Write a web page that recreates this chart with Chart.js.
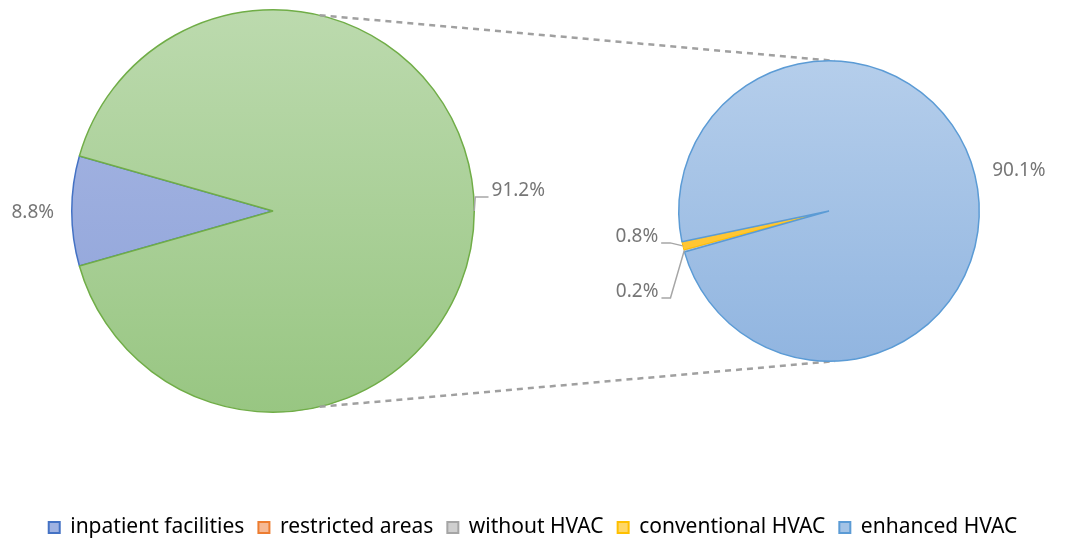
<!DOCTYPE html>
<html lang="en">
<head>
  <meta charset="UTF-8">
  <title>Pie of pie</title>
  <script src="https://cdn.jsdelivr.net/npm/chart.js"></script>
  <style>
    body { margin: 0; background: #fff; overflow: hidden; }
    #wrap { position: relative; width: 1066px; height: 540px; overflow: hidden; }
    canvas { position: absolute; left: 0; top: 0; }
    #legendChart { top: 503px; }
  </style>
</head>
<body>
  <div id="wrap">
    <canvas id="leftChart" width="1066" height="540"></canvas>
    <canvas id="rightChart" width="1066" height="540"></canvas>
    <canvas id="legendChart" width="1066" height="120"></canvas>
  </div>
  <script>
    // data (percent of total)
    const categories = ['inpatient facilities', 'restricted areas', 'without HVAC', 'conventional HVAC', 'enhanced HVAC'];
    const mainLabels = ['inpatient facilities', 'other'];
    const mainValues = [8.8, 91.2];
    const detailLabels = ['restricted areas', 'without HVAC', 'conventional HVAC', 'enhanced HVAC'];
    const detailValues = [0, 0.2, 0.8, 90.1];

    const textGrey = '#767676';
    const font = "'Noto Sans', sans-serif";

    // vertical gradient fill per slice; plain string = flat colour
    function fills(list) {
      return (c) => {
        const f = list[c.dataIndex];
        if (typeof f === 'string') return f;
        const ch = c.chart, a = ch.chartArea;
        if (!a) return f[1];
        const g = ch.ctx.createLinearGradient(0, a.top, 0, a.bottom);
        g.addColorStop(0, f[0]);
        g.addColorStop(1, f[1]);
        return g;
      };
    }

    // percent labels, placed off the outer edge of each slice
    function sliceLabels(values, shifts, leaders) {
      return {
        id: 'sliceLabels',
        afterDatasetsDraw(chart) {
          const ctx = chart.ctx;
          const arcs = chart.getDatasetMeta(0).data;
          ctx.save();
          ctx.font = '19px ' + font;
          ctx.textAlign = 'center';
          ctx.textBaseline = 'middle';
          arcs.forEach((arc, i) => {
            if (!values[i]) return;
            const p = arc.getProps(['x', 'y', 'startAngle', 'endAngle', 'outerRadius'], true);
            const mid = (p.startAngle + p.endAngle) / 2;
            const ax = p.x + Math.cos(mid) * p.outerRadius;
            const ay = p.y + Math.sin(mid) * p.outerRadius;
            const lx = ax + shifts[i][0];
            const ly = ay + shifts[i][1];
            const txt = values[i].toFixed(1) + '%';
            const w = ctx.measureText(txt).width;
            if (leaders[i]) {
              const lineY = ly + 6;
              ctx.strokeStyle = '#a6a6a6';
              ctx.lineWidth = 1.5;
              ctx.beginPath();
              ctx.moveTo(ax, ay);
              if (shifts[i][0] > 0) {
                ctx.lineTo(ax + 1, lineY);
                ctx.lineTo(lx - w / 2 - 3, lineY);
              } else {
                ctx.lineTo(lx + w / 2 + 12, lineY);
                ctx.lineTo(lx + w / 2 + 3, lineY);
              }
              ctx.stroke();
            }
            ctx.fillStyle = textGrey;
            ctx.fillText(txt, lx, ly);
          });
          ctx.restore();
        }
      };
    }

    const leftChart = new Chart(document.getElementById('leftChart'), {
      type: 'pie',
      data: {
        labels: mainLabels,
        datasets: [{
          data: mainValues,
          backgroundColor: fills([['#a9b8e4', '#8ca1d8'], ['#bcdaae', '#98c682']]),
          borderColor: ['#4472c4', '#70ad47'],
          borderWidth: 1.5
        }]
      },
      options: {
        responsive: false,
        animation: false,
        rotation: 270 - mainValues[0] * 3.6 / 2,
        layout: { padding: { left: 71, right: 591, top: 9, bottom: 127 } },
        plugins: { legend: { display: false }, tooltip: { enabled: false } }
      },
      plugins: [sliceLabels(mainValues, [[-39, 2], [44, -20]], [false, true])]
    });

    // dashed connectors from the big pie to the small one
    const connectors = {
      id: 'connectors',
      beforeDatasetsDraw(chart) {
        const big = leftChart.getDatasetMeta(0).data[0].getProps(['x', 'y', 'outerRadius'], true);
        const small = chart.getDatasetMeta(0).data[0].getProps(['x', 'y', 'outerRadius'], true);
        const a1 = 13.4 * Math.PI / 180, a2 = 2.3 * Math.PI / 180;
        const ctx = chart.ctx;
        ctx.save();
        ctx.strokeStyle = '#a0a0a0';
        ctx.lineWidth = 2.5;
        ctx.setLineDash([6, 5]);
        [-1, 1].forEach(s => {
          ctx.beginPath();
          ctx.moveTo(big.x + Math.sin(a1) * big.outerRadius, big.y + s * Math.cos(a1) * big.outerRadius);
          ctx.lineTo(small.x + Math.sin(a2) * small.outerRadius, small.y + s * Math.cos(a2) * small.outerRadius);
          ctx.stroke();
        });
        ctx.restore();
      }
    };

    const rightChart = new Chart(document.getElementById('rightChart'), {
      type: 'pie',
      data: {
        labels: detailLabels,
        datasets: [{
          data: detailValues,
          backgroundColor: fills(['#f4b183', '#c9c9c9', '#ffc633', ['#b5ceeb', '#91b5e0']]),
          borderColor: ['#ed7d31', '#a5a5a5', '#ffc000', '#5b9bd5'],
          borderWidth: [1, 1, 1, 1.5]
        }]
      },
      options: {
        responsive: false,
        animation: false,
        rotation: 254.2,
        layout: { padding: { left: 677, right: 85, top: 60, bottom: 178 } },
        plugins: { legend: { display: false }, tooltip: { enabled: false } }
      },
      plugins: [connectors, sliceLabels(detailValues, [[0, 0], [-47, 41], [-46, -9], [44, -5]], [false, true, true, false])]
    });

    const legendFill = ['#9fb2e2', '#f6b994', '#cfcfcf', '#ffd766', '#a3c3e6'];
    const legendStroke = ['#4472c4', '#ed7d31', '#a5a5a5', '#ffc000', '#5b9bd5'];

    new Chart(document.getElementById('legendChart'), {
      type: 'pie',
      data: {
        labels: categories,
        datasets: [{
          data: [mainValues[0]].concat(detailValues),
          backgroundColor: 'rgba(0,0,0,0)',
          borderWidth: 0
        }]
      },
      options: {
        responsive: false,
        animation: false,
        plugins: {
          tooltip: { enabled: false },
          legend: {
            position: 'top',
            labels: {
              boxWidth: 11,
              boxHeight: 11,
              padding: 14,
              color: textGrey,
              font: { family: font, size: 21 },
              generateLabels: () => categories.map((t, i) => ({
                text: t,
                fillStyle: legendFill[i],
                strokeStyle: legendStroke[i],
                lineWidth: 2,
                hidden: false,
                index: i
              }))
            }
          }
        }
      }
    });
  </script>
</body>
</html>
